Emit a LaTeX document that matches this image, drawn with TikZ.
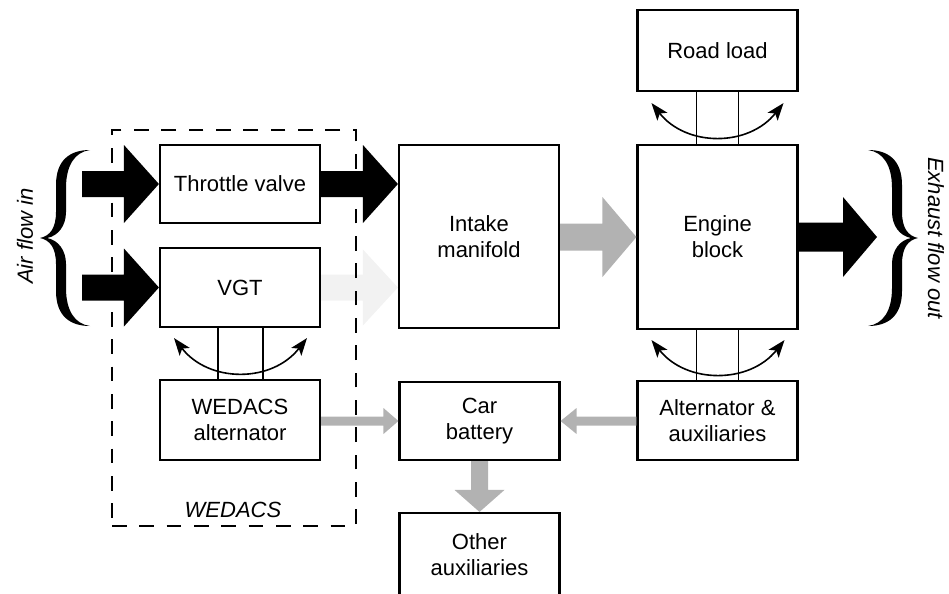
\documentclass[tikz,border=0pt]{standalone}
\usepackage{fontspec}
\setmainfont{Liberation Sans}
\usetikzlibrary{calc,arrows.meta}

% Horizontal block arrow: style, start, tip, shaft half-width, head half-width, head length (px)
\newcommand\harrow[6]{%
  \fill[#1] let \p1=(#2), \p2=(#3), \n1={2*(\x2>\x1)-1} in
    ({\x1},{\y2+#4*0.75pt}) -- ({\x2-(\n1)*#6*0.75pt},{\y2+#4*0.75pt})
    -- ({\x2-(\n1)*#6*0.75pt},{\y2+#5*0.75pt}) -- (\x2,\y2)
    -- ({\x2-(\n1)*#6*0.75pt},{\y2-#5*0.75pt}) -- ({\x2-(\n1)*#6*0.75pt},{\y2-#4*0.75pt})
    -- ({\x1},{\y2-#4*0.75pt}) -- cycle;}
% Vertical block arrow, same arguments
\newcommand\varrow[6]{%
  \fill[#1] let \p1=(#2), \p2=(#3), \n1={2*(\y2>\y1)-1} in
    ({\x2+#4*0.75pt},{\y1}) -- ({\x2+#4*0.75pt},{\y2-(\n1)*#6*0.75pt})
    -- ({\x2+#5*0.75pt},{\y2-(\n1)*#6*0.75pt}) -- (\x2,\y2)
    -- ({\x2-#5*0.75pt},{\y2-(\n1)*#6*0.75pt}) -- ({\x2-#4*0.75pt},{\y2-(\n1)*#6*0.75pt})
    -- ({\x2-#4*0.75pt},{\y1}) -- cycle;}

\tikzset{
  txt/.style={font=\fontsize{16.5pt}{19.5pt}\selectfont, align=center},
  box/.style={txt, draw, fill=white, line width=1.6pt, inner sep=0pt,
    minimum width=120pt},
  shaftline/.style={line width=1pt},
  twoway/.style={line width=1.2pt,
    {Stealth[length=13pt,width=9.5pt,inset=3pt]}-{Stealth[length=13pt,width=9.5pt,inset=3pt]}},
  flowblack/.style={black},
  flowgray/.style={black!30},
  flowghost/.style={black!5},
  bracepic/.pic={
    \fill[black] (50,-88) .. controls (30,-88) and (16,-78) .. (16,-53) -- (16,-26)
      .. controls (16,-10) and (10,-2) .. (0,0)
      .. controls (10,2) and (16,10) .. (16,26) -- (16,53)
      .. controls (16,78) and (30,88) .. (50,88)
      .. controls (35,86) and (26,73) .. (26,50) -- (26,26)
      .. controls (26,12) and (18,2) .. (7,0)
      .. controls (18,-2) and (26,-12) .. (26,-26) -- (26,-50)
      .. controls (26,-73) and (35,-86) .. (50,-88) -- cycle;
  }
}

\begin{document}
\begin{tikzpicture}[x=0.75pt,y=-0.75pt]
\useasboundingbox (0,0) rectangle (949,593);

% blocks
\node[box, minimum height=58.5pt] (tv) at (240,184) {Throttle valve};
\node[box, minimum height=59.25pt] (vgt) at (240,287.5) {VGT};
\node[box, minimum height=60pt] (wa) at (240,420) {WEDACS\\alternator};
\node[box, minimum height=137.25pt] (im) at (479,236.5) {Intake\\manifold};
\node[box, minimum height=138pt] (eb) at (717.5,237) {Engine\\block};
\node[box, minimum height=60.75pt] (rl) at (717.5,50.5) {Road load};
\node[box, minimum height=59.25pt] (aa) at (717.5,420.5) {Alternator \&\\auxiliaries};
\node[box, minimum height=58.5pt] (cb) at (479.5,421) {Car\\battery};
\node[box, minimum height=63pt] (oa) at (479.5,555) {Other\\auxiliaries};

% faint flow from the VGT towards the manifold
\harrow{flowghost}{vgt.east}{vgt.east -| im.west}{13}{38}{35}

% WEDACS boundary
\node[draw, line width=1.5pt, dash pattern=on 11pt off 9.5pt,
  minimum width=183pt, minimum height=297pt, inner sep=0pt] (wed) at (234,328) {};
\node[txt, font=\fontsize{16.5pt}{19.5pt}\selectfont\itshape] (wedlbl) at (233,510) {WEDACS};

% mechanical shafts
\draw[shaftline] ($(vgt.south)+(-22,0)$) -- ($(wa.north)+(-22,0)$);
\draw[shaftline] ($(vgt.south)+(23,0)$) -- ($(wa.north)+(23,0)$);
\draw[shaftline] ($(rl.south)+(-21,0)$) -- ($(eb.north)+(-21,0)$);
\draw[shaftline] ($(rl.south)+(21,0)$) -- ($(eb.north)+(21,0)$);
\draw[shaftline] ($(eb.south)+(-21,0)$) -- ($(aa.north)+(-21,0)$);
\draw[shaftline] ($(eb.south)+(21,0)$) -- ($(aa.north)+(21,0)$);

% rotation arrows around the shafts
\coordinate (v1) at ($(vgt.south)+(-66,10)$);
\coordinate (v2) at ($(vgt.south)+(67,10)$);
\coordinate (r1) at ($(rl.south)+(-66,11)$);
\coordinate (r2) at ($(rl.south)+(66,11)$);
\coordinate (e1) at ($(eb.south)+(-66,10)$);
\coordinate (e2) at ($(eb.south)+(67,10)$);
\draw[twoway] (v1) .. controls +(35,45) and +(-35,45) .. (v2);
\draw[twoway] (r1) .. controls +(35,44) and +(-35,44) .. (r2);
\draw[twoway] (e1) .. controls +(35,44) and +(-35,44) .. (e2);

% air path
\coordinate (in1) at (82,184);
\coordinate (in2) at (82,287.5);
\coordinate (exo) at (877,237);
\harrow{flowblack}{in1}{tv.west}{13}{39}{35}
\harrow{flowblack}{in2}{vgt.west}{13}{39}{35}
\harrow{flowblack}{tv.east}{tv.east -| im.west}{13}{39}{35}
\harrow{flowgray}{im.east}{eb.west}{13.5}{40}{34}
\harrow{flowblack}{eb.east}{exo}{14.5}{40}{34}

% electrical path
\harrow{flowgray}{wa.east}{cb.west}{4.5}{13}{15}
\harrow{flowgray}{aa.west}{cb.east}{4.5}{13}{16}
\varrow{flowgray}{cb.south}{oa.north}{8.5}{25}{22}

% braces and flow labels
\pic (bin) at (40,238) {bracepic};
\pic[xscale=-1] (bout) at (918,238) {bracepic};
\node[txt, font=\fontsize{16.5pt}{19.5pt}\selectfont\itshape, rotate=90] (airin) at (25,236) {Air flow in};
\node[txt, font=\fontsize{16.5pt}{19.5pt}\selectfont\itshape, rotate=-90] (exhout) at (936,238) {Exhaust flow out};
\end{tikzpicture}
\end{document}
